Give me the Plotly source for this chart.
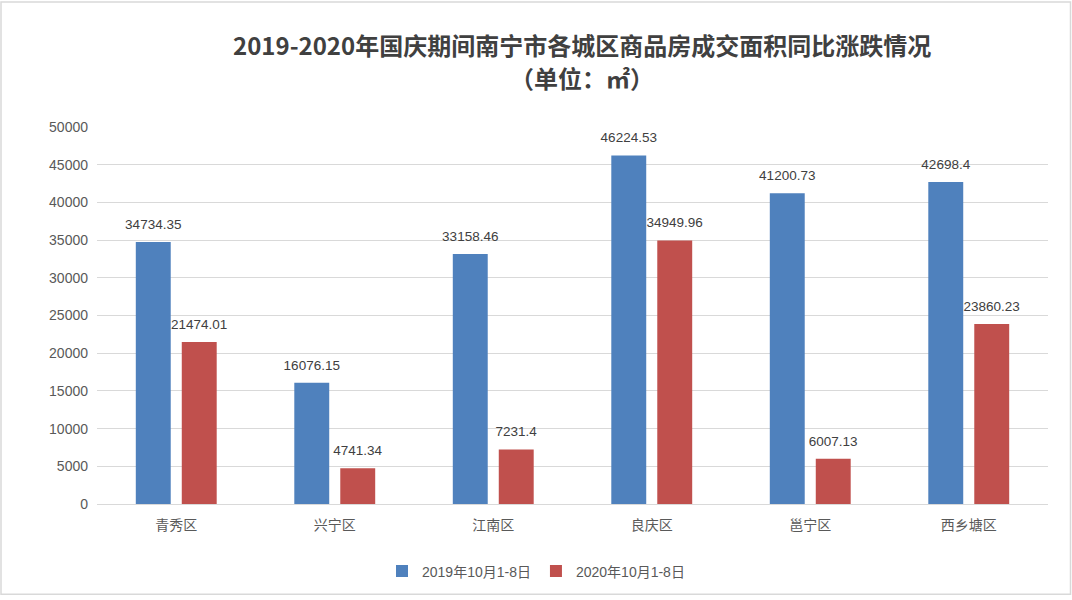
import plotly.graph_objects as go

categories = ["青秀区", "兴宁区", "江南区", "良庆区", "邕宁区", "西乡塘区"]
values_2019 = [34734.35, 16076.15, 33158.46, 46224.53, 41200.73, 42698.4]
values_2020 = [21474.01, 4741.34, 7231.4, 34949.96, 6007.13, 23860.23]
labels_2019 = ["34734.35", "16076.15", "33158.46", "46224.53", "41200.73", "42698.4"]
labels_2020 = ["21474.01", "4741.34", "7231.4", "34949.96", "6007.13", "23860.23"]
series_names = ["2019年10月1-8日", "2020年10月1-8日"]
title_line1 = "2019-2020年国庆期间南宁市各城区商品房成交面积同比涨跌情况"
title_line2 = "（单位：㎡）"

FONT = "Liberation Sans, Noto Sans CJK SC, sans-serif"
BLUE = "#4F81BD"
RED = "#C0504D"

fig = go.Figure()
for vals, name, color in [(values_2019, series_names[0], BLUE), (values_2020, series_names[1], RED)]:
    fig.add_trace(go.Bar(
        x=categories, y=vals, name=name,
        marker=dict(color=color, line=dict(width=0)),
        hoverinfo="skip",
    ))
# value labels, grouped in the same way as the bars
for vals, labels, name in [(values_2019, labels_2019, series_names[0]), (values_2020, labels_2020, series_names[1])]:
    fig.add_trace(go.Scatter(
        x=categories, y=vals, mode="markers+text", text=labels,
        textposition="top center", showlegend=False, hoverinfo="skip",
        marker=dict(size=14, opacity=0), cliponaxis=False,
        textfont=dict(family=FONT, size=13.5, color="#404040"),
        name=name + " labels",
    ))

W, H = 1072, 600
ml, mr, mt, mb = 97, 24, 127, 93
pw, ph = W - ml - mr, H - mt - mb

def px(x):
    return (x - ml) / pw

def py(y):
    return (H - mb - y) / ph

fig.update_layout(
    width=W, height=H,
    margin=dict(l=ml, r=mr, t=mt, b=mb, pad=0),
    paper_bgcolor="white", plot_bgcolor="white",
    barmode="group", bargap=0.42, bargroupgap=0.24,
    scattermode="group", scattergap=0.42,
    font=dict(family=FONT, size=14, color="#595959"),
    showlegend=True,
    legend=dict(
        orientation="h", x=px(536), xanchor="center", y=py(575), yanchor="middle",
        font=dict(family=FONT, size=14, color="#595959"),
        itemwidth=30, bgcolor="rgba(0,0,0,0)",
    ),
    xaxis=dict(
        showgrid=False, showline=True, linecolor="#D9D9D9", linewidth=1,
        ticks="", ticklabelstandoff=8,
        tickfont=dict(family=FONT, size=14, color="#595959"),
    ),
    yaxis=dict(
        range=[0, 50000], dtick=5000, tick0=0, tickformat="d",
        showgrid=True, gridcolor="#D9D9D9", gridwidth=1,
        zeroline=False, showline=False, ticks="", ticklabelstandoff=8,
        tickfont=dict(family=FONT, size=14, color="#595959"),
    ),
    annotations=[
        dict(text="<b>" + title_line1 + "</b>", xref="paper", yref="paper",
             x=px(582), y=py(44), xanchor="center", yanchor="middle", showarrow=False,
             font=dict(family="Noto Sans CJK SC", size=24, color="#404040")),
        dict(text="<b>" + title_line2 + "</b>", xref="paper", yref="paper",
             x=px(582), y=py(77), xanchor="center", yanchor="middle", showarrow=False,
             font=dict(family="Noto Sans CJK SC", size=24, color="#404040")),
    ],
    shapes=[
        dict(type="rect", xref="paper", yref="paper", layer="below",
             x0=px(1), x1=px(1070.5), y0=py(598), y1=py(1),
             line=dict(color="#D9D9D9", width=1.5), fillcolor="rgba(0,0,0,0)"),
    ],
)

fig.write_html("out.html")
